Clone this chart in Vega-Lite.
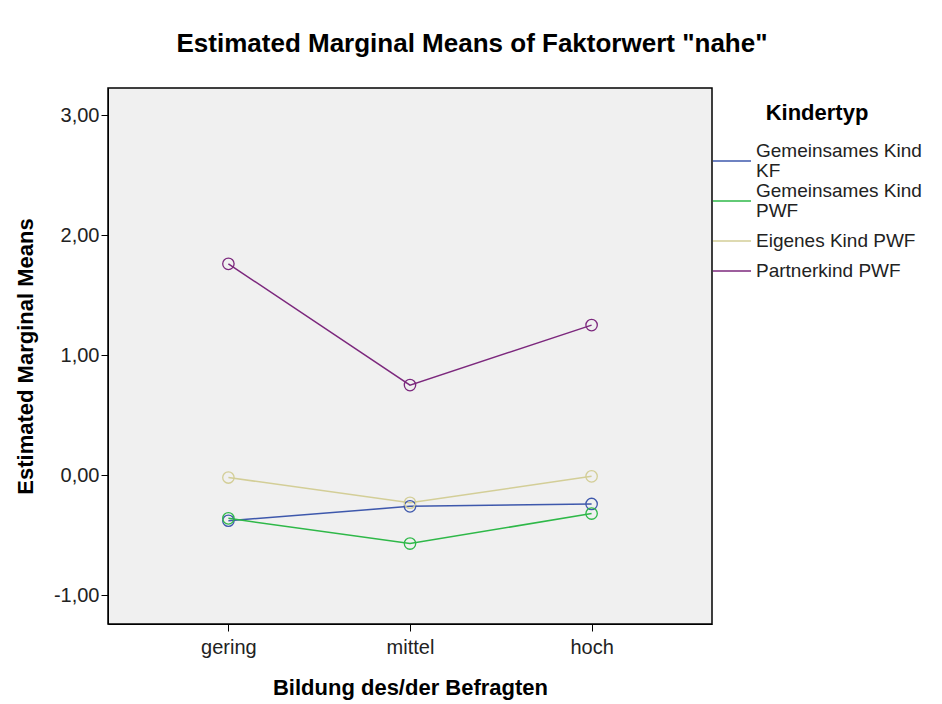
{
  "$schema": "https://vega.github.io/schema/vega-lite/v6.json",
  "autosize": "none",
  "width": 604,
  "height": 536,
  "padding": {"left": 108, "top": 88, "right": 230, "bottom": 80},
  "background": "white",
  "title": {
    "text": "Estimated Marginal Means of Faktorwert \"nahe\"",
    "font": "Liberation Sans",
    "fontSize": 26,
    "fontWeight": "bold",
    "color": "#000000",
    "anchor": "middle",
    "frame": "group",
    "dx": 62,
    "offset": 31
  },
  "config": {
    "view": {"fill": "#F0F0F0", "stroke": "#000000", "strokeWidth": 1.5},
    "axis": {
      "labelFont": "Liberation Sans",
      "labelFontSize": 20,
      "labelColor": "#222222",
      "titleFont": "Liberation Sans",
      "titleFontSize": 22,
      "titleFontWeight": "bold",
      "titleColor": "#000000",
      "domainColor": "#000000",
      "tickColor": "#000000",
      "tickSize": 7,
      "grid": false
    }
  },
  "data": {
    "values": [
      {"bildung": "gering", "typ": "Gemeinsames Kind KF", "mean": -0.38},
      {"bildung": "mittel", "typ": "Gemeinsames Kind KF", "mean": -0.26},
      {"bildung": "hoch", "typ": "Gemeinsames Kind KF", "mean": -0.24},
      {"bildung": "gering", "typ": "Gemeinsames Kind PWF", "mean": -0.36},
      {"bildung": "mittel", "typ": "Gemeinsames Kind PWF", "mean": -0.57},
      {"bildung": "hoch", "typ": "Gemeinsames Kind PWF", "mean": -0.32},
      {"bildung": "gering", "typ": "Eigenes Kind PWF", "mean": -0.02},
      {"bildung": "mittel", "typ": "Eigenes Kind PWF", "mean": -0.23},
      {"bildung": "hoch", "typ": "Eigenes Kind PWF", "mean": -0.01},
      {"bildung": "gering", "typ": "Partnerkind PWF", "mean": 1.76},
      {"bildung": "mittel", "typ": "Partnerkind PWF", "mean": 0.75},
      {"bildung": "hoch", "typ": "Partnerkind PWF", "mean": 1.25}
    ]
  },
  "encoding": {
    "x": {
      "field": "bildung",
      "type": "ordinal",
      "sort": ["gering", "mittel", "hoch"],
      "scale": {"type": "point", "padding": 0.663},
      "axis": {"title": "Bildung des/der Befragten", "labelAngle": 0, "labelPadding": 6, "titlePadding": 20}
    },
    "y": {
      "field": "mean",
      "type": "quantitative",
      "scale": {"domain": [-1.24, 3.225], "nice": false, "zero": false},
      "axis": {
        "title": "Estimated Marginal Means",
        "values": [-1, 0, 1, 2, 3],
        "labelExpr": "replace(replace(format(datum.value, '.2f'), '.', ','), '\u2212', '-')",
        "labelPadding": 2,
        "titlePadding": 16
      }
    },
    "color": {
      "field": "typ",
      "type": "nominal",
      "scale": {
        "domain": ["Gemeinsames Kind KF", "Gemeinsames Kind PWF", "Eigenes Kind PWF", "Partnerkind PWF"],
        "range": ["#3E58AC", "#2EB848", "#D3CE97", "#7C287D"]
      },
      "legend": {
        "orient": "none",
        "legendX": 604,
        "legendY": 15,
        "title": "Kindertyp",
        "titleFont": "Liberation Sans",
        "titleFontSize": 22,
        "titleFontWeight": "bold",
        "titleColor": "#000000",
        "titleAnchor": "middle",
        "titlePadding": 16,
        "labelFont": "Liberation Sans",
        "labelFontSize": 19,
        "labelColor": "#222222",
        "labelExpr": "datum.label == 'Gemeinsames Kind KF' ? ['Gemeinsames Kind', 'KF'] : datum.label == 'Gemeinsames Kind PWF' ? ['Gemeinsames Kind', 'PWF'] : datum.label",
        "labelLimit": 300,
        "labelOffset": 4,
        "symbolType": "stroke",
        "symbolSize": 1444,
        "symbolStrokeWidth": 1.5,
        "rowPadding": 0,
        "encode": {
          "labels": {
            "update": {
              "lineHeight": {"value": 20},
              "dy": {"signal": "indexof(datum.label, 'Gemeinsames') === 0 ? -10 : 0"}
            }
          }
        }
      }
    }
  },
  "layer": [
    {"mark": {"type": "line", "strokeWidth": 1.5}},
    {"mark": {"type": "point", "filled": false, "size": 130, "strokeWidth": 1.3, "opacity": 1}}
  ]
}
